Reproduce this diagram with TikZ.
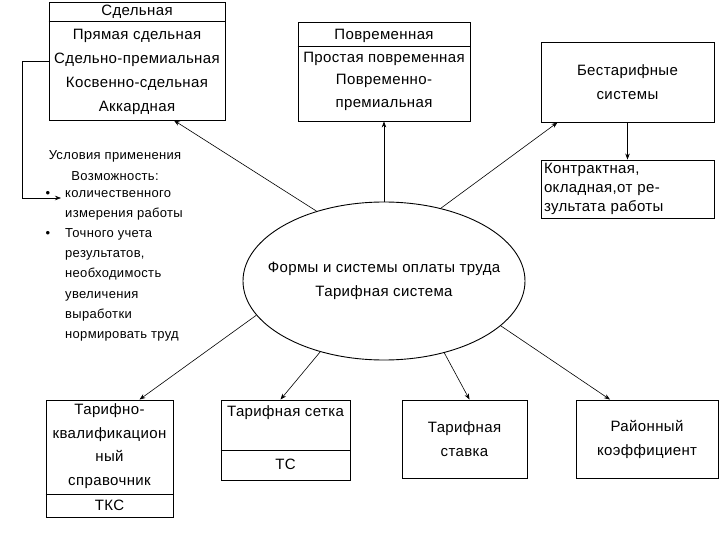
\documentclass[tikz,border=0pt]{standalone}
\usepackage{fontspec}
\setmainfont{Liberation Sans}[LetterSpace=2.5]
\usetikzlibrary{shapes.geometric,arrows.meta}

\begin{document}
\begin{tikzpicture}[x=1pt, y=-1pt,
	every node/.style={font=\fontsize{15}{24}\selectfont, inner sep=0pt},
	ramka/.style n args={2}{draw, line width=0.9pt, minimum width=#1, minimum height=#2},
	strelka/.style={-{Stealth[length=6pt,width=4.5pt]}, line width=0.6pt}]
	\useasboundingbox (0,0) rectangle (720,540);
	% verkhnii riad
	\node[ramka={176pt}{118pt}] (sdel) at (137,61) {};
	\draw[line width=0.9pt] ([yshift=-20pt]sdel.north west) -- ([yshift=-20pt]sdel.north east);
	\node (sdelz) at (137,12) {Сдельная};
	\node[align=center] (sdelt) at (137,72) {Прямая сдельная\\Сдельно-премиальная\\Косвенно-сдельная\\Аккардная};
	\node[ramka={172pt}{99pt}] (povr) at (384,71.5) {};
	\draw[line width=0.9pt] ([yshift=-25pt]povr.north west) -- ([yshift=-25pt]povr.north east);
	\node (povrz) at (384,36) {Повременная};
	\node[align=center, font=\fontsize{15}{22.5}\selectfont] (povrt) at (384,81) {Простая повременная\\Повременно-\\премиальная};
	\node[ramka={173pt}{80pt}, align=center] (bestarif) at (627.5,82) {Бестарифные\\системы};
	\node[ramka={173pt}{58pt}, align=left, text width=167pt, font=\fontsize{15}{19}\selectfont] (kontr) at (627.5,189) {Контрактная,\\окладная,от ре-\\зультата работы};
	% usloviia
	\node[align=center, font=\fontsize{13}{21}\selectfont] (uslz) at (115,166) {Условия применения\\Возможность:};
	\node[align=left, anchor=north west, font=\fontsize{13}{20.2}\selectfont] (usl) at (65,190) {\llap{•\hspace{15pt}}количественного\\измерения работы\\\llap{•\hspace{15pt}}Точного учета\\результатов,\\необходимость\\увеличения\\выработки\\нормировать труд};
	\coordinate (vvod) at (61,198);
	% tsentr
	\node[draw, ellipse, line width=0.9pt, minimum width=282pt, minimum height=158pt] (formy) at (384,281) {};
	\node[align=center] (formyt) at (formy.center) {Формы и системы оплаты труда\\Тарифная система};
	% nizhnii riad
	\node[ramka={127pt}{117pt}] (tks) at (109.5,458.5) {};
	\draw[line width=0.9pt] ([yshift=23pt]tks.south west) -- ([yshift=23pt]tks.south east);
	\node[align=center, font=\fontsize{15}{23.7}\selectfont] (tkst) at (109.5,446) {Тарифно-\\квалификацион\\ный\\справочник};
	\node (tksz) at (109.5,505) {ТКС};
	\node[ramka={129pt}{80pt}] (tset) at (285.5,440) {};
	\draw[line width=0.9pt] ([yshift=30pt]tset.south west) -- ([yshift=30pt]tset.south east);
	\node (tsett) at (285.5,413) {Тарифная сетка};
	\node (tsetz) at (285.5,464) {ТС};
	\node[ramka={125pt}{78pt}, align=center] (tstavka) at (464.5,439) {Тарифная\\ставка};
	\node[ramka={142pt}{78pt}, align=center] (rayon) at (647,439) {Районный\\коэффициент};
	% strelki
	\draw[strelka] (formy.134) -- ([xshift=37pt]sdel.south);
	\draw[strelka] (formy.90) -- (povr.south);
	\draw[strelka] (formy.52) -- ([xshift=-70pt]bestarif.south);
	\draw[strelka] (bestarif.south) -- (kontr.north);
	\draw[strelka] (sdel.west) -- ++(-26,0) |- (vvod);
	\draw[strelka] (formy.195) -- ([xshift=30pt]tks.north);
	\draw[strelka] (formy.228) -- ([xshift=-5pt]tset.north);
	\draw[strelka] (formy.310) -- ([xshift=5pt]tstavka.north);
	\draw[strelka] (formy.339) -- ([xshift=-37pt]rayon.north);
\end{tikzpicture}
\end{document}
